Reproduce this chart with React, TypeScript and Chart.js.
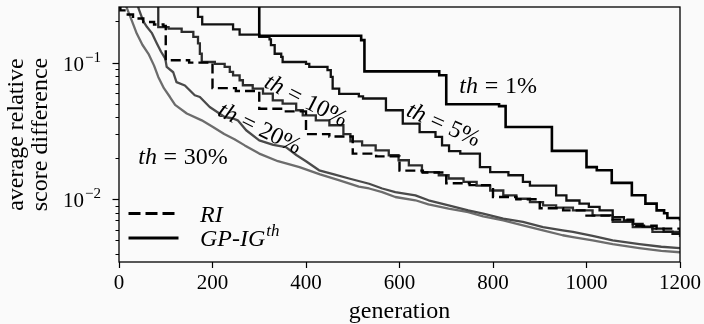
import React, { useEffect, useRef } from 'react';
import { Chart, registerables } from 'chart.js';

Chart.register(...registerables);

const FONT = "'Liberation Serif', 'DejaVu Serif', serif";

// x axis
const xTickStep = 200;
const xMin = 0;
const xMax = 1200;
// y axis (log)
const yMin = 0.00348;
const yMax = 0.255;
const yMajorVals = [0.01, 0.1];
const yMajorExps = ['\u22122', '\u22121'];
const yMinorVals = [0.004, 0.005, 0.006, 0.007, 0.008, 0.009, 0.02, 0.03, 0.04, 0.05, 0.06, 0.07, 0.08, 0.09, 0.2];

// RI (dashed)
const riGen = [0, 3, 15, 30, 52, 75, 95, 100, 150, 200, 250, 300, 350, 400, 450, 500, 550, 600, 650, 700, 750, 800, 850, 900, 950, 1000, 1050, 1100, 1150, 1200];
const riVal = [0.255, 0.241, 0.225, 0.21, 0.198, 0.19, 0.185, 0.104, 0.1, 0.065, 0.062, 0.046, 0.044, 0.03, 0.0288, 0.0216, 0.0206, 0.0162, 0.0157, 0.0131, 0.0127, 0.0104, 0.01, 0.0086, 0.0083, 0.0076, 0.0071, 0.0064, 0.0061, 0.0058];

// GP-IG th = 1%
const th1Gen = [0, 300, 518, 525, 685, 700, 813, 827, 926, 1000, 1022, 1054, 1097, 1126, 1150, 1166, 1173, 1200];
const th1Val = [1.0, 0.157, 0.146, 0.0863, 0.0807, 0.0496, 0.048, 0.0338, 0.0226, 0.0172, 0.0163, 0.0132, 0.0107, 0.0093, 0.0083, 0.0079, 0.0073, 0.007];

// GP-IG th = 5%
const th5Gen = [0, 169, 178, 244, 258, 300, 322, 325, 333, 347, 350, 400, 407, 446, 453, 457, 471, 513, 522, 571, 607, 643, 677, 691, 706, 730, 772, 794, 833, 864, 879, 935, 957, 985, 1005, 1028, 1056, 1080, 1099, 1120, 1141, 1165, 1184, 1200];
const th5Val = [1.0, 0.216, 0.19, 0.175, 0.16, 0.154, 0.148, 0.134, 0.116, 0.11, 0.101, 0.098, 0.093, 0.088, 0.0785, 0.0645, 0.059, 0.0566, 0.0546, 0.0448, 0.0358, 0.031, 0.0286, 0.0248, 0.0225, 0.0216, 0.0172, 0.0158, 0.015, 0.0134, 0.0126, 0.0107, 0.0098, 0.0093, 0.0088, 0.0083, 0.0074, 0.007, 0.0066, 0.0063, 0.0061, 0.0058, 0.0056, 0.0055];

// GP-IG th = 10%
const th10Gen = [0, 84, 106, 134, 159, 169, 173, 177, 205, 226, 237, 244, 258, 265, 286, 308, 329, 350, 379, 393, 421, 450, 480, 495, 520, 549, 577, 598, 620, 648, 684, 705, 737, 765, 794, 822, 850, 879, 907, 935, 971, 1013, 1056, 1099, 1141, 1200];
const th10Val = [1.0, 0.182, 0.177, 0.168, 0.154, 0.138, 0.116, 0.101, 0.098, 0.093, 0.0855, 0.0807, 0.0743, 0.0683, 0.0646, 0.0593, 0.053, 0.0501, 0.0448, 0.0411, 0.0378, 0.0348, 0.03, 0.0265, 0.0248, 0.0228, 0.021, 0.0193, 0.0177, 0.0158, 0.015, 0.0142, 0.0134, 0.0126, 0.0116, 0.0107, 0.0101, 0.00955, 0.00903, 0.00869, 0.0083, 0.00764, 0.00683, 0.00627, 0.00577, 0.0053];

// GP-IG th = 20%
const th20Gen = [0, 42, 52, 60, 70, 81, 90, 99, 102, 116, 123, 141, 162, 173, 194, 226, 244, 254, 272, 300, 330, 357, 380, 400, 428, 460, 492, 535, 563, 591, 634, 662, 705, 747, 779, 822, 864, 907, 949, 971, 1013, 1056, 1113, 1160, 1200];
const th20Val = [1.0, 0.248, 0.2, 0.182, 0.165, 0.138, 0.12, 0.107, 0.093, 0.085, 0.072, 0.068, 0.0577, 0.056, 0.0473, 0.04, 0.039, 0.0378, 0.032, 0.027, 0.025, 0.0241, 0.021, 0.019, 0.0163, 0.0152, 0.0142, 0.013, 0.012, 0.0113, 0.0107, 0.00984, 0.00903, 0.0083, 0.00785, 0.00723, 0.00683, 0.00627, 0.00593, 0.00577, 0.0054, 0.005, 0.0047, 0.0045, 0.0044];

// GP-IG th = 30%
const th30Gen = [0, 15, 20, 28, 38, 50, 63, 75, 84, 96, 109, 120, 145, 177, 201, 225, 247, 269, 300, 340, 386, 430, 470, 513, 535, 563, 591, 634, 662, 705, 747, 779, 822, 864, 907, 949, 971, 1013, 1056, 1113, 1160, 1200];
const th30Val = [0.4, 0.26, 0.235, 0.2, 0.163, 0.135, 0.116, 0.095, 0.0785, 0.065, 0.056, 0.049, 0.0424, 0.0378, 0.0338, 0.03, 0.0275, 0.0248, 0.0216, 0.019, 0.0172, 0.0152, 0.0138, 0.0124, 0.012, 0.0113, 0.0104, 0.00984, 0.00918, 0.00855, 0.00807, 0.0075, 0.00702, 0.00645, 0.00593, 0.00546, 0.0053, 0.005, 0.0047, 0.0044, 0.0042, 0.0041];

// curve labels
const labelTh = ['1%', '5%', '10%', '20%', '30%'];
const labelGen = [811, 695, 401, 302, 137];
const labelVal = [0.0682, 0.0356, 0.0535, 0.0335, 0.0206];
const labelAngle = [0, 24, 27, 26, 0];

const pts = (g: number[], v: number[]) => g.map((x, i) => ({ x, y: v[i] }));

type Part = { t: string; it?: boolean; gap?: number };

function drawParts(ctx: CanvasRenderingContext2D, parts: Part[], cx: number, cy: number, angleDeg: number, size: number) {
  ctx.save();
  ctx.translate(cx, cy);
  ctx.rotate((angleDeg * Math.PI) / 180);
  const fonts = parts.map((p) => `${p.it ? 'italic ' : ''}${size}px ${FONT}`);
  const widths = parts.map((p, i) => {
    ctx.font = fonts[i];
    return ctx.measureText(p.t).width + (p.gap || 0) * size * 2;
  });
  const total = widths.reduce((a, b) => a + b, 0);
  let x = -total / 2;
  ctx.fillStyle = '#000';
  ctx.textBaseline = 'alphabetic';
  ctx.textAlign = 'left';
  parts.forEach((p, i) => {
    ctx.font = fonts[i];
    ctx.fillText(p.t, x + (p.gap || 0) * size, size * 0.33);
    x += widths[i];
  });
  ctx.restore();
}

const decorPlugin = {
  id: 'decor',
  beforeDraw(chart: any) {
    const ctx = chart.ctx;
    ctx.save();
    ctx.fillStyle = '#fafafa';
    ctx.fillRect(0, 0, chart.width, chart.height);
    ctx.restore();
  },
  afterDatasetsDraw(chart: any) {
    const ctx: CanvasRenderingContext2D = chart.ctx;
    const xs = chart.scales.x;
    const ys = chart.scales.y;
    const ca = chart.chartArea;
    // curve labels
    labelTh.forEach((t, i) => {
      drawParts(
        ctx,
        [{ t: 'th', it: true }, { t: '=', gap: 0.28 }, { t }],
        xs.getPixelForValue(labelGen[i]),
        ys.getPixelForValue(labelVal[i]),
        labelAngle[i],
        24
      );
    });
    // legend
    ctx.save();
    const lx0 = ca.left + 9.5;
    const lx1 = ca.left + 59.5;
    const ly1 = ca.top + 206.5;
    const ly2 = ca.top + 231;
    ctx.strokeStyle = '#000';
    ctx.lineWidth = 3;
    ctx.setLineDash([12, 5]);
    ctx.beginPath();
    ctx.moveTo(lx0, ly1);
    ctx.lineTo(lx1, ly1);
    ctx.stroke();
    ctx.setLineDash([]);
    ctx.beginPath();
    ctx.moveTo(lx0, ly2);
    ctx.lineTo(lx1, ly2);
    ctx.stroke();
    ctx.fillStyle = '#000';
    ctx.textBaseline = 'alphabetic';
    ctx.font = `italic 24px ${FONT}`;
    const tx = ca.left + 81;
    ctx.fillText('RI', tx, ly1 + 8);
    ctx.fillText('GP-IG', tx, ly2 + 8);
    const w = ctx.measureText('GP-IG').width;
    ctx.font = `italic 17px ${FONT}`;
    ctx.fillText('th', tx + w + 1, ly2 - 2);
    ctx.restore();
  },
  afterDraw(chart: any) {
    const ctx: CanvasRenderingContext2D = chart.ctx;
    const ys = chart.scales.y;
    const ca = chart.chartArea;
    ctx.save();
    ctx.strokeStyle = '#000';
    ctx.lineWidth = 1.3;
    ctx.strokeRect(ca.left, ca.top, ca.right - ca.left, ca.bottom - ca.top);
    ctx.lineWidth = 1;
    yMinorVals.forEach((v) => {
      const py = Math.round(ys.getPixelForValue(v)) + 0.5;
      ctx.beginPath();
      ctx.moveTo(ca.left, py);
      ctx.lineTo(ca.left - 3.5, py);
      ctx.stroke();
    });
    ctx.lineWidth = 1.2;
    yMajorVals.forEach((v, i) => {
      const py = Math.round(ys.getPixelForValue(v)) + 0.5;
      ctx.beginPath();
      ctx.moveTo(ca.left, py);
      ctx.lineTo(ca.left - 6.5, py);
      ctx.stroke();
      ctx.fillStyle = '#000';
      ctx.textBaseline = 'alphabetic';
      ctx.textAlign = 'left';
      ctx.font = `15px ${FONT}`;
      const ws = ctx.measureText(yMajorExps[i]).width;
      ctx.font = `21px ${FONT}`;
      const wb = ctx.measureText('10').width;
      const right = ca.left - 18;
      ctx.fillText('10', right - ws - wb - 1, py + 7.5);
      ctx.font = `15px ${FONT}`;
      ctx.fillText(yMajorExps[i], right - ws, py - 2);
    });
    ctx.restore();
  },
};

export default function App() {
  const ref = useRef<HTMLCanvasElement | null>(null);
  useEffect(() => {
    if (!ref.current) return;
    const common = { pointRadius: 0, fill: false, stepped: 'before' as const, borderJoinStyle: 'miter' as const };
    const smooth = { pointRadius: 0, fill: false, stepped: false, tension: 0, borderJoinStyle: 'round' as const };
    const chart = new Chart(ref.current, {
      type: 'line',
      data: {
        datasets: [
          { ...common, label: 'RI', data: pts(riGen, riVal), borderColor: '#000', borderWidth: 2.4, borderDash: [10, 5] },
          { ...common, label: 'th=1%', data: pts(th1Gen, th1Val), borderColor: '#000', borderWidth: 2.6 },
          { ...common, label: 'th=5%', data: pts(th5Gen, th5Val), borderColor: '#111', borderWidth: 2.3 },
          { ...common, label: 'th=10%', data: pts(th10Gen, th10Val), borderColor: '#2c2c2c', borderWidth: 2.3 },
          { ...smooth, label: 'th=20%', data: pts(th20Gen, th20Val), borderColor: '#4a4a4a', borderWidth: 2.3 },
          { ...smooth, label: 'th=30%', data: pts(th30Gen, th30Val), borderColor: '#6c6c6c', borderWidth: 2.3 },
        ],
      },
      options: {
        animation: false,
        responsive: false,
        maintainAspectRatio: false,
        devicePixelRatio: 1,
        layout: { padding: { left: 0, right: 22, top: 7, bottom: 0 } },
        plugins: { legend: { display: false }, tooltip: { enabled: false } },
        scales: {
          x: {
            type: 'linear',
            min: xMin,
            max: xMax,
            ticks: { stepSize: xTickStep, color: '#000', font: { family: FONT, size: 21 }, padding: 3, maxRotation: 0, autoSkip: false, callback: (v: any) => String(v) },
            grid: { display: true, drawOnChartArea: false, drawTicks: true, tickLength: 6, tickColor: '#000', tickWidth: 1.2 },
            border: { display: false },
            title: { display: true, text: 'generation', color: '#000', font: { family: FONT, size: 24 }, padding: { top: 0, bottom: -2 } },
            afterFit: (s: any) => { s.height = 62; },
          },
          y: {
            type: 'logarithmic',
            min: yMin,
            max: yMax,
            ticks: { display: false },
            grid: { display: false },
            border: { display: false },
            title: { display: true, text: ['average relative', 'score difference'], color: '#000', font: { family: FONT, size: 24, lineHeight: 0.98 }, padding: { top: 5, bottom: 0 } },
            afterFit: (s: any) => { s.width = 119; },
          },
        },
      },
      plugins: [decorPlugin],
    } as any);
    return () => chart.destroy();
  }, []);
  return (
    <div style={{ position: 'fixed', left: 0, top: 0, width: 704, height: 324 }}>
      <canvas ref={ref} width={704} height={324} style={{ display: 'block', width: 704, height: 324 }} />
    </div>
  );
}
